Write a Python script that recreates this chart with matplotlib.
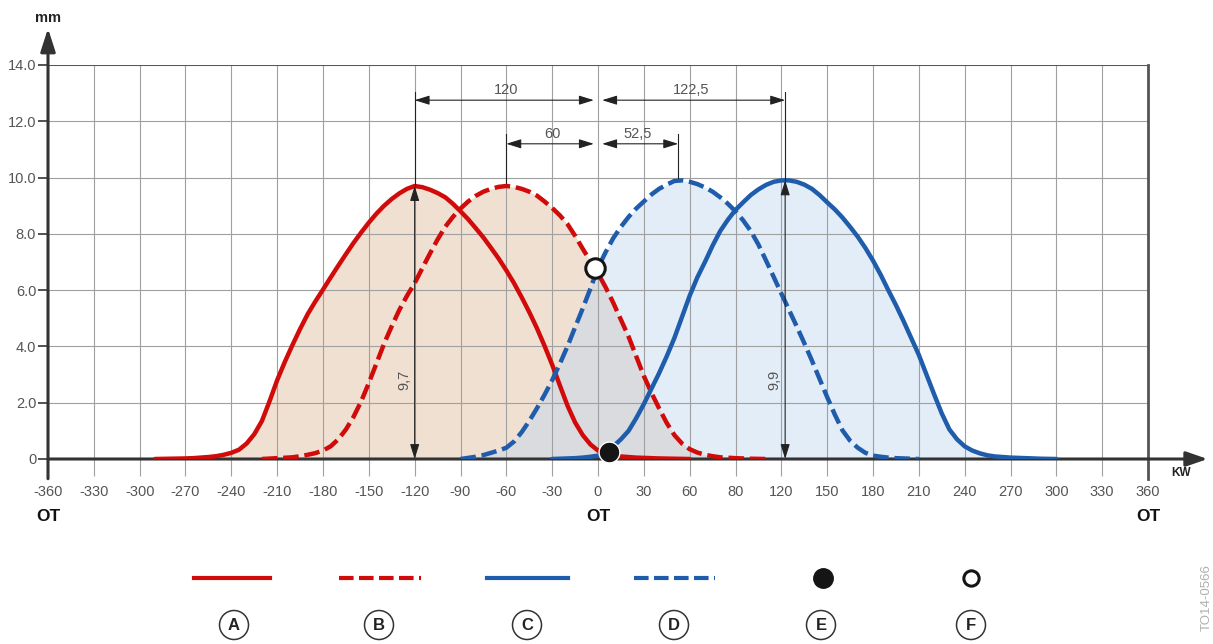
import numpy as np
import matplotlib.pyplot as plt

plt.rcParams['font.family'] = ['Liberation Sans', 'DejaVu Sans']

nan = np.nan

# crank angle grid (deg KW) the lift curves were read on, every 5 deg
angle = np.arange(-300, 301, 5)

# valve lift in mm (nan = curve not drawn)
lift_a = ([nan] * 2 +
          [0.0, 0.005, 0.01, 0.015, 0.02, 0.03, 0.05, 0.07, 0.1, 0.15,
           0.22, 0.33, 0.55, 0.88, 1.35, 2.05, 2.8, 3.45, 4.05, 4.62,
           5.15, 5.6, 6.02, 6.45, 6.87, 7.28, 7.68, 8.05, 8.4, 8.72,
           9.0, 9.24, 9.44, 9.6, 9.7, 9.66, 9.57, 9.45, 9.3, 9.07,
           8.8, 8.52, 8.2, 7.87, 7.5, 7.12, 6.7, 6.25, 5.75, 5.22,
           4.65, 4.02, 3.35, 2.62, 1.9, 1.3, 0.85, 0.52, 0.3, 0.18,
           0.12, 0.09, 0.07, 0.05, 0.04, 0.03, 0.02, 0.015, 0.01, 0.005,
           0.0] + [nan] * 48)
lift_b = ([nan] * 16 +
          [0.0, 0.015, 0.03, 0.045, 0.06, 0.1, 0.15, 0.21, 0.3, 0.45,
           0.7, 1.05, 1.5, 2.05, 2.7, 3.4, 4.1, 4.72, 5.3, 5.8,
           6.25, 6.78, 7.3, 7.8, 8.25, 8.6, 8.9, 9.15, 9.35, 9.5,
           9.6, 9.67, 9.7, 9.67, 9.6, 9.5, 9.36, 9.15, 8.92, 8.66,
           8.35, 7.93, 7.47, 7.03, 6.6, 6.1, 5.55, 4.95, 4.35, 3.65,
           2.95, 2.35, 1.8, 1.28, 0.85, 0.55, 0.35, 0.23, 0.15, 0.1,
           0.06, 0.045, 0.03, 0.02, 0.01, 0.005, 0.0] + [nan] * 38)
lift_c = ([nan] * 54 +
          [0.0, 0.01, 0.02, 0.03, 0.05, 0.08, 0.12, 0.25, 0.45, 0.7,
           1.0, 1.45, 1.95, 2.5, 3.05, 3.65, 4.3, 5.05, 5.8, 6.45,
           7.0, 7.58, 8.1, 8.5, 8.85, 9.12, 9.38, 9.58, 9.74, 9.85,
           9.9, 9.9, 9.85, 9.75, 9.6, 9.38, 9.12, 8.87, 8.58, 8.25,
           7.9, 7.5, 7.05, 6.55, 6.0, 5.47, 4.9, 4.3, 3.7, 3.0,
           2.3, 1.62, 1.05, 0.7, 0.45, 0.3, 0.2, 0.13, 0.09, 0.07,
           0.05, 0.04, 0.03, 0.02, 0.01, 0.005, 0.0])
lift_d = ([nan] * 42 +
          [0.0, 0.04, 0.08, 0.14, 0.22, 0.3, 0.4, 0.62, 0.95, 1.35,
           1.8, 2.28, 2.8, 3.38, 4.0, 4.68, 5.35, 6.05, 6.8, 7.35,
           7.85, 8.25, 8.6, 8.9, 9.15, 9.4, 9.6, 9.75, 9.88, 9.9,
           9.85, 9.77, 9.65, 9.5, 9.3, 9.07, 8.8, 8.48, 8.1, 7.62,
           7.05, 6.47, 5.88, 5.3, 4.72, 4.12, 3.5, 2.85, 2.2, 1.58,
           1.02, 0.65, 0.4, 0.22, 0.12, 0.08, 0.05, 0.03, 0.02, 0.01,
           0.0] + [nan] * 18)

point_e = (7, 0.24)
point_f = (-2, 6.78)

x_ticks = list(range(-360, 361, 30))
x_tick_labels = ['-360', '-330', '-300', '-270', '-240', '-210', '-180', '-150',
                 '-120', '-90', '-60', '-30', '0', '30', '60', '80', '120', '150',
                 '180', '210', '240', '270', '300', '330', '360']
y_ticks = [0, 2, 4, 6, 8, 10, 12, 14]
y_tick_labels = ['0', '2.0', '4.0', '6.0', '8.0', '10.0', '12.0', '14.0']

# peak heights and the top dimension chains
peak_a = (-120, 9.7, '9,7')
peak_c = (122.5, 9.9, '9,9')
dims = [(-120, 0, 12.75, '120'), (0, 122.5, 12.75, '122,5'),
        (-60, 0, 11.2, '60'), (0, 52.5, 11.2, '52,5')]
ext_lines = [(-120, 9.7, 13.05), (-60, 9.8, 11.55), (52.5, 10.0, 11.55), (122.5, 9.9, 13.05)]
ot_pos = [-360, 0, 360]

legend_names = ['A', 'B', 'C', 'D', 'E', 'F']

RED = '#d10a0a'
BLUE = '#1f5cab'
GRID = '#a0a0a0'
DARK = '#333333'
TXT = '#555555'

W, H = 1213, 644
fig = plt.figure(figsize=(W / 100, H / 100), dpi=100)
ax = fig.add_axes([48 / W, 185 / H, 1100 / W, 394 / H])
ax.set_xlim(-360, 360)
ax.set_ylim(0, 14)
for s in ax.spines.values():
    s.set_visible(False)

ax.set_xticks(x_ticks)
ax.set_xticklabels(x_tick_labels)
ax.set_yticks(y_ticks)
ax.set_yticklabels(y_tick_labels)
ax.tick_params(axis='x', length=12.5, width=0.8, color=GRID, pad=6,
               labelsize=10.5, labelcolor=TXT)
ax.tick_params(axis='y', length=7, width=1.2, color=DARK, pad=1.5,
               labelsize=10.5, labelcolor=TXT)
ax.grid(True, color=GRID, lw=0.8)

# filled areas under intake / exhaust curves
red_env = np.nan_to_num(np.fmax(lift_a, lift_b))
blue_env = np.nan_to_num(np.fmax(lift_c, lift_d))
ax.fill_between(angle, 0, red_env, color='#f0e0d2', lw=0, zorder=1)
ax.fill_between(angle, 0, blue_env, color='#bfd6ef', alpha=0.44, lw=0, zorder=1)

# frame: top line, right line at 360, axes with arrows
ax.plot([-360, 360], [14, 14], color='#555555', lw=1.4, zorder=2)
ax.plot([360, 360], [-0.7, 14], color='#555555', lw=2, clip_on=False, zorder=2)
ax.annotate('', xy=(-360, 15.3), xytext=(-360, -0.7), annotation_clip=False,
            arrowprops=dict(arrowstyle='-|>,head_length=14,head_width=4.5',
                            mutation_scale=1, lw=2.2, color=DARK, shrinkA=0, shrinkB=0))
ax.annotate('', xy=(399, 0), xytext=(-360, 0), annotation_clip=False,
            arrowprops=dict(arrowstyle='-|>,head_length=13,head_width=4.5',
                            mutation_scale=1, lw=2.2, color=DARK, shrinkA=0, shrinkB=0))

ax.text(-360, 15.66, 'mm', ha='center', va='center', fontsize=10.5,
        fontweight='bold', color='#222222', clip_on=False)
ax.text(381.5, -0.5, 'KW', ha='center', va='center', fontsize=8.5,
        fontweight='bold', color='#222222', clip_on=False)
for x in ot_pos:
    ax.text(x, -2.03, 'OT', ha='center', va='center', fontsize=12.5,
            fontweight='bold', color='#111111', clip_on=False)

# lift curves
ax.plot(angle, lift_a, color=RED, lw=3.2, solid_capstyle='round',
        solid_joinstyle='round', zorder=3)
ax.plot(angle, lift_b, color=RED, lw=3.2, dashes=(3.5, 1.3), zorder=3)
ax.plot(angle, lift_c, color=BLUE, lw=3.2, solid_capstyle='round',
        solid_joinstyle='round', zorder=3)
ax.plot(angle, lift_d, color=BLUE, lw=3.2, dashes=(3.5, 1.3), zorder=3)

# dimensions
arrow_kw = dict(arrowstyle='<|-|>,head_length=0.9,head_width=0.28',
                mutation_scale=10, lw=0.8, color='#222222')
for x, y0, y1 in ext_lines:
    ax.plot([x, x], [y0, y1], color='#222222', lw=0.8, zorder=4)
for x, h, lab in (peak_a, peak_c):
    ax.annotate('', xy=(x, h), xytext=(x, 0),
                arrowprops=dict(arrow_kw, shrinkA=0, shrinkB=0), zorder=4)
    ax.text(x - 7, 2.8, lab, rotation=90, ha='center', va='center',
            fontsize=10.5, color=TXT, zorder=4)
for x0, x1, y, lab in dims:
    sa = 3 if x0 == 0 else 0
    sb = 3 if x1 == 0 else 0
    ax.annotate('', xy=(x1, y), xytext=(x0, y),
                arrowprops=dict(arrow_kw, shrinkA=sa, shrinkB=sb), zorder=4)
    ax.text((x0 + x1) / 2, y + 0.36, lab, ha='center', va='center',
            fontsize=10.5, color=TXT, zorder=4)

# markers
ax.plot(*point_e, 'o', ms=15, mfc='#151515', mec='white', mew=1.0, zorder=6, clip_on=False)
ax.plot(*point_f, 'o', ms=14, mfc='white', mec='#151515', mew=2.2, zorder=6)

# legend row (pixel layout)
lax = fig.add_axes([0, 0, 1, 1])
lax.set_xlim(0, W)
lax.set_ylim(H, 0)
lax.axis('off')
line_y, label_y = 578, 625
lax.plot([194, 270], [line_y, line_y], color=RED, lw=3)
lax.plot([339, 421], [line_y, line_y], color=RED, lw=3, dashes=(3.5, 1.3))
lax.plot([487, 568], [line_y, line_y], color=BLUE, lw=3)
lax.plot([634, 715], [line_y, line_y], color=BLUE, lw=3, dashes=(3.5, 1.3))
lax.plot(823, line_y, 'o', ms=14, mfc='#151515', mec='#151515')
lax.plot(971, line_y, 'o', ms=11, mfc='white', mec='#151515', mew=2.2)
for x, name in zip([234, 379, 527, 674, 821, 971], legend_names):
    lax.text(x, label_y, name, ha='center', va='center', fontsize=12,
             fontweight='bold', color='#222222',
             bbox=dict(boxstyle='circle,pad=0.42', fc='white', ec='#333333', lw=1.1))

lax.text(1207, 598, 'TO14-0566', rotation=90, ha='center', va='center',
         fontsize=9.5, color='#b0b0b0')

fig.savefig('out.png', dpi=100)
